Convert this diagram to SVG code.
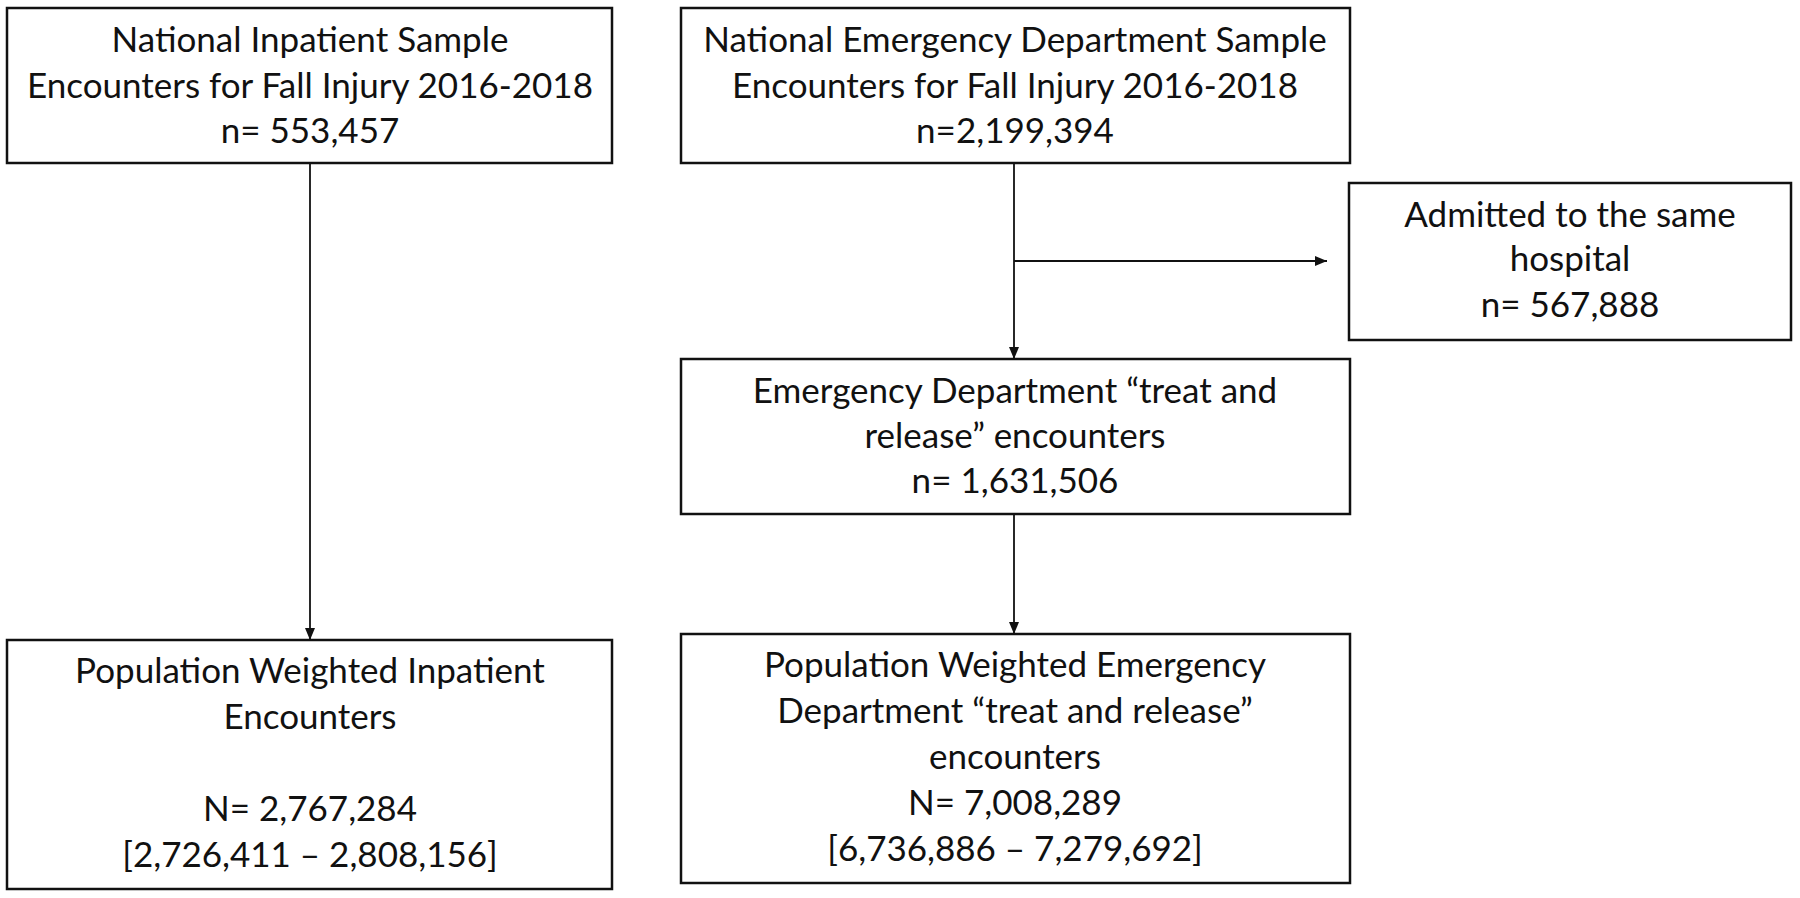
<svg xmlns="http://www.w3.org/2000/svg" width="1800" height="898" viewBox="0 0 1800 898">
<defs>
<marker id="arr" viewBox="0 0 12 10" refX="12" refY="5" markerWidth="12" markerHeight="10" markerUnits="userSpaceOnUse" orient="auto">
<path d="M0,0 L12,5 L0,10 Z" fill="#111"/>
</marker>
<style>
.box{fill:#fff;stroke:#111;stroke-width:2.5}
.t{font-family:Lato,"Open Sans",sans-serif;font-size:35px;fill:#111;text-anchor:middle}
.c{stroke:#111;stroke-width:1.8;fill:none}
</style>
</defs>
<rect width="1800" height="898" fill="#fff"/>
<g id="connectors">
<line class="c" x1="310" y1="163" x2="310" y2="640" marker-end="url(#arr)"/>
<line class="c" x1="1014" y1="163" x2="1014" y2="359" marker-end="url(#arr)"/>
<line class="c" x1="1014" y1="261" x2="1327" y2="261" marker-end="url(#arr)"/>
<line class="c" x1="1014" y1="514" x2="1014" y2="634" marker-end="url(#arr)"/>
</g>
<g id="nis">
<rect class="box" x="7" y="8" width="605" height="155"/>
<text class="t" x="310" y="52">National Inpatient Sample</text>
<text class="t" x="310" y="98">Encounters for Fall Injury 2016-2018</text>
<text class="t" x="310" y="143">n= 553,457</text>
</g>
<g id="neds">
<rect class="box" x="681" y="8" width="669" height="155"/>
<text class="t" x="1015" y="52">National Emergency Department Sample</text>
<text class="t" x="1015" y="98">Encounters for Fall Injury 2016-2018</text>
<text class="t" x="1015" y="143">n=2,199,394</text>
</g>
<g id="admitted">
<rect class="box" x="1349" y="183" width="442" height="157"/>
<text class="t" x="1570" y="227">Admitted to the same</text>
<text class="t" x="1570" y="271">hospital</text>
<text class="t" x="1570" y="317">n= 567,888</text>
</g>
<g id="treat">
<rect class="box" x="681" y="359" width="669" height="155"/>
<text class="t" x="1015" y="403">Emergency Department “treat and</text>
<text class="t" x="1015" y="448">release” encounters</text>
<text class="t" x="1015" y="493">n= 1,631,506</text>
</g>
<g id="pw-inpatient">
<rect class="box" x="7" y="640" width="605" height="249"/>
<text class="t" x="310" y="683">Population Weighted Inpatient</text>
<text class="t" x="310" y="729">Encounters</text>
<text class="t" x="310" y="821">N= 2,767,284</text>
<text class="t" x="310" y="867">[2,726,411 – 2,808,156]</text>
</g>
<g id="pw-ed">
<rect class="box" x="681" y="634" width="669" height="249"/>
<text class="t" x="1015" y="677">Population Weighted Emergency</text>
<text class="t" x="1015" y="723">Department “treat and release”</text>
<text class="t" x="1015" y="769">encounters</text>
<text class="t" x="1015" y="815">N= 7,008,289</text>
<text class="t" x="1015" y="861">[6,736,886 – 7,279,692]</text>
</g>
</svg>
